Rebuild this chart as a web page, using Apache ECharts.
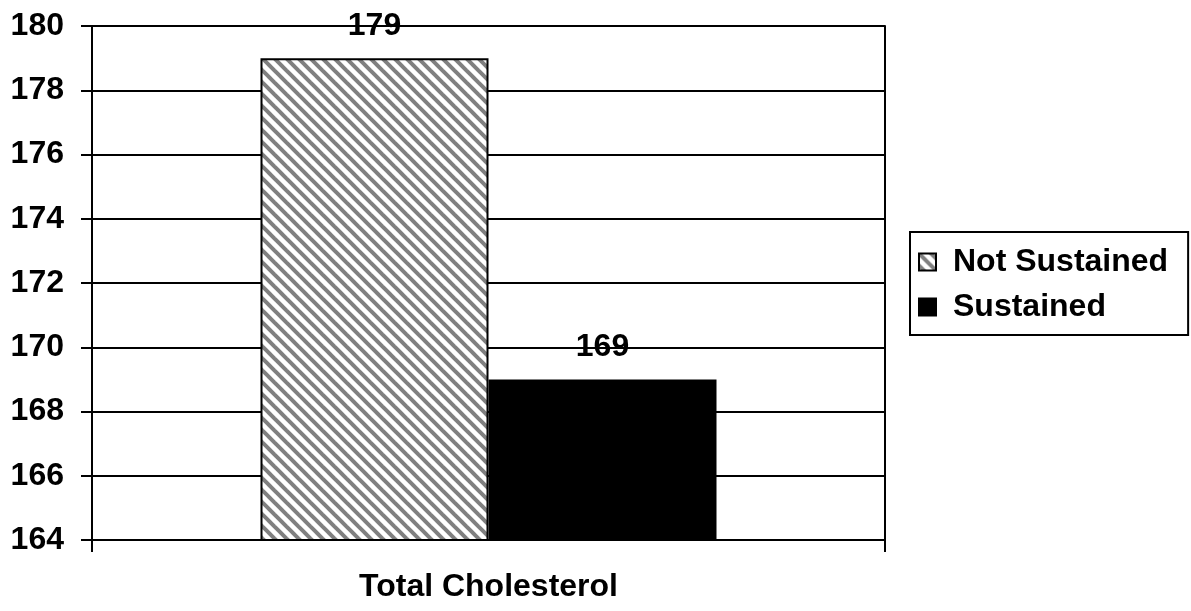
<!DOCTYPE html>
<html>
<head>
<meta charset="utf-8">
<script src="https://cdn.jsdelivr.net/npm/echarts@6/dist/echarts.min.js"></script>
<style>
html,body{margin:0;padding:0;background:#fff;}
#chart{width:1191px;height:611px;}
</style>
</head>
<body>
<div id="chart"></div>
<script>
const categories = ['Total Cholesterol'];
const seriesNames = ['Not Sustained', 'Sustained'];
const notSustained = [179];
const sustained = [169];
const yTicks = { min: 164, max: 180, interval: 2 };

const FONT = '"Liberation Sans", Arial, sans-serif';
const FS = 32;

function makeStripe() {
  const s = 12;
  const c = document.createElement('canvas');
  c.width = s; c.height = s;
  const ctx = c.getContext('2d');
  ctx.fillStyle = '#ffffff';
  ctx.fillRect(0, 0, s, s);
  ctx.strokeStyle = '#808080';
  ctx.lineWidth = 4;
  for (let k = -1; k <= 1; k++) {
    ctx.beginPath();
    ctx.moveTo(k * s - 2, -2);
    ctx.lineTo(k * s + s + 2, s + 2);
    ctx.stroke();
  }
  return c;
}
const stripe = { image: makeStripe(), repeat: 'repeat' };

const chart = echarts.init(document.getElementById('chart'), null, { renderer: 'canvas' });
const labelStyle = {
  show: true, position: 'top', distance: 16,
  color: '#000', fontFamily: FONT, fontWeight: 'bold', fontSize: FS
};
chart.setOption({
  animation: false,
  backgroundColor: '#fff',
  textStyle: { fontFamily: FONT },
  grid: { left: 92, right: 306, top: 26, bottom: 71, containLabel: false },
  legend: {
    orient: 'vertical',
    left: 910, top: 232,
    padding: [14, 20, 12, 8],
    itemWidth: 17, itemHeight: 17,
    itemGap: 13,
    borderColor: '#000', borderWidth: 2,
    backgroundColor: '#fff',
    textStyle: { color: '#000', fontFamily: FONT, fontWeight: 'bold', fontSize: FS, padding: [0, 0, 0, 12] },
    data: seriesNames.map(n => ({ name: n, icon: 'rect' }))
  },
  xAxis: {
    type: 'category',
    data: categories,
    axisLine: { lineStyle: { color: '#000', width: 2 } },
    axisTick: { show: true, length: 12, lineStyle: { color: '#000', width: 2 } },
    axisLabel: { color: '#000', fontFamily: FONT, fontWeight: 'bold', fontSize: FS, margin: 31 }
  },
  yAxis: [{
    type: 'value',
    min: yTicks.min, max: yTicks.max, interval: yTicks.interval,
    axisLine: { show: true, lineStyle: { color: '#000', width: 2 } },
    axisTick: { show: true, length: 11, lineStyle: { color: '#000', width: 2 } },
    axisLabel: { color: '#000', fontFamily: FONT, fontWeight: 'bold', fontSize: FS, margin: 28 },
    splitLine: { show: true, lineStyle: { color: '#000', width: 2 } }
  }, {
    type: 'value', position: 'right',
    min: yTicks.min, max: yTicks.max, interval: yTicks.interval,
    axisLine: { show: true, lineStyle: { color: '#000', width: 2 } },
    axisTick: { show: false }, axisLabel: { show: false }, splitLine: { show: false }
  }],
  series: [{
    name: seriesNames[0], type: 'bar', data: notSustained,
    barWidth: 228, barGap: 0,
    itemStyle: { color: stripe, borderColor: '#000', borderWidth: 2 },
    label: labelStyle
  }, {
    name: seriesNames[1], type: 'bar', data: sustained,
    barWidth: 228, barGap: 0,
    itemStyle: { color: '#000', borderColor: '#000', borderWidth: 2 },
    label: labelStyle
  }]
});
</script>
</body>
</html>
